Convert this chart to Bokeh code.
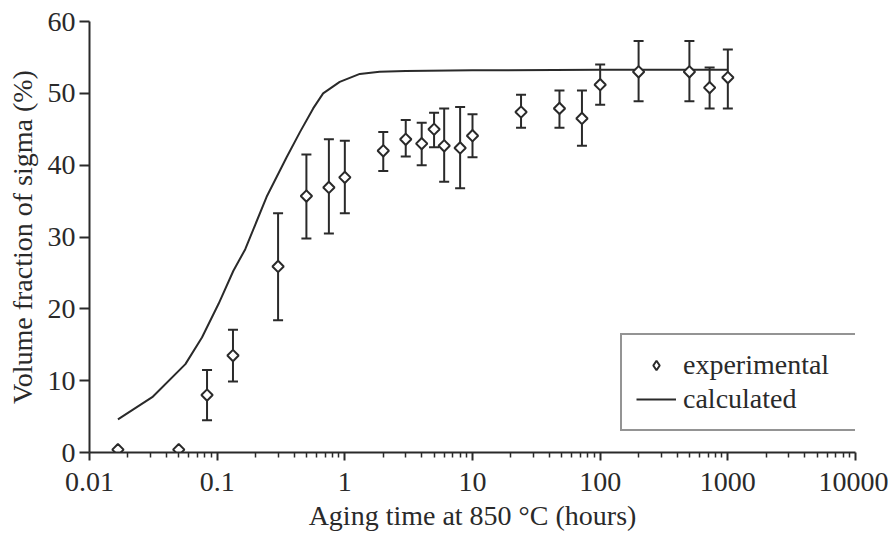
import math
from bokeh.plotting import figure
from bokeh.models import (Range1d, FixedTicker, CustomJSTickFormatter, Whisker, TeeHead,
                          ColumnDataSource, Legend, LegendItem)
from bokeh.embed import file_html
from bokeh.resources import INLINE

# ---- data ----
exp_time = [0.0167, 0.05, 0.0833, 0.133, 0.3, 0.5, 0.75, 1, 2, 3, 4, 5, 6, 8, 10,
            24, 48, 72, 100, 200, 500, 720, 1000]
exp_vf = [0.4, 0.4, 8.0, 13.5, 25.9, 35.7, 36.9, 38.3, 42.0, 43.6, 43.0, 45.0, 42.7, 42.4, 44.1,
          47.4, 47.9, 46.5, 51.2, 53.0, 53.0, 50.8, 52.2]
err_time = [0.0833, 0.133, 0.3, 0.5, 0.75, 1, 2, 3, 4, 5, 6, 8, 10,
            24, 48, 72, 100, 200, 500, 720, 1000]
err_upper = [11.5, 17.1, 33.3, 41.5, 43.6, 43.4, 44.6, 46.3, 45.9, 47.3, 47.9, 48.1, 47.1,
             49.8, 50.4, 50.4, 54.0, 57.3, 57.3, 53.6, 56.1]
err_lower = [4.5, 9.9, 18.4, 29.8, 30.5, 33.3, 39.2, 41.2, 40.0, 42.5, 37.7, 36.8, 41.1,
             45.2, 45.2, 42.7, 48.4, 48.9, 48.9, 47.9, 47.9]

calc_time = [0.0167, 0.031, 0.0564, 0.076, 0.1026, 0.134, 0.166, 0.244, 0.35, 0.445, 0.565,
             0.676, 0.912, 1.31, 1.87, 3, 10, 100, 1000]
calc_vf = [4.6, 7.7, 12.3, 16.0, 20.7, 25.3, 28.3, 35.6, 41.1, 44.6, 47.9,
           50.0, 51.6, 52.7, 53.0, 53.1, 53.2, 53.3, 53.3]

x_ticks = [0.01, 0.1, 1, 10, 100, 1000, 10000]
y_ticks = [0, 10, 20, 30, 40, 50, 60]

x_label = "Aging time at 850 °C (hours)"
y_label = "Volume fraction of sigma (%)"

FONT = "Liberation Serif"
INK = "#2a2a2a"

p = figure(width=888, height=535, x_axis_type="log",
           x_range=Range1d(0.01, 10000), y_range=Range1d(0, 60),
           output_backend="svg", toolbar_location=None,
           min_border_left=89, min_border_top=21, min_border_right=33, min_border_bottom=83)
p.outline_line_color = None
p.xgrid.visible = False
p.ygrid.visible = False

line_r = p.line(calc_time, calc_vf, line_color=INK, line_width=2)

err_src = ColumnDataSource(dict(t=err_time, up=err_upper, lo=err_lower))
wh = Whisker(base="t", upper="up", lower="lo", dimension="height", source=err_src,
             line_color=INK, line_width=2,
             upper_head=TeeHead(size=10, line_color=INK, line_width=2),
             lower_head=TeeHead(size=10, line_color=INK, line_width=2))
p.add_layout(wh)

# diamond-shaped copy of the experimental points (hidden under the markers, drives the legend glyph)
leg_r = p.scatter(exp_time, exp_vf, marker="diamond", size=10,
                  fill_color="white", line_color=INK, line_width=2)
sc_r = p.scatter(exp_time, exp_vf, marker="square", size=8, angle=math.pi / 4,
                 fill_color="white", line_color=INK, line_width=2)

minor = [m * 10.0 ** e for e in range(-2, 4) for m in range(2, 10)]
p.xaxis.ticker = FixedTicker(ticks=x_ticks, minor_ticks=minor)
p.xaxis.formatter = CustomJSTickFormatter(code="return tick.toString();")
p.yaxis.ticker = FixedTicker(ticks=y_ticks, minor_ticks=[])

p.axis.axis_line_color = INK
p.axis.axis_line_width = 2
p.axis.major_tick_line_color = INK
p.axis.major_tick_line_width = 2
p.axis.major_tick_in = 0
p.axis.major_tick_out = 8
p.axis.minor_tick_line_color = INK
p.axis.minor_tick_line_width = 1.5
p.axis.minor_tick_in = 0
p.axis.minor_tick_out = 5
p.axis.major_label_text_font = FONT
p.axis.major_label_text_font_size = "28px"
p.axis.major_label_text_color = INK
p.axis.axis_label_text_font = FONT
p.axis.axis_label_text_font_size = "28px"
p.axis.axis_label_text_font_style = "normal"
p.axis.axis_label_text_color = INK

p.yaxis.minor_tick_line_color = None
p.yaxis.major_tick_out = 10
p.xaxis.axis_label = x_label
p.yaxis.axis_label = y_label
p.xaxis.major_label_standoff = 12
p.yaxis.major_label_standoff = 4
p.xaxis.axis_label_standoff = 6
p.yaxis.axis_label_standoff = 7

legend = Legend(items=[LegendItem(label="experimental", renderers=[leg_r]),
                       LegendItem(label="calculated", renderers=[line_r])],
                location=(531, 21), margin=0, padding=14, spacing=2,
                glyph_width=40, glyph_height=24, label_standoff=7, label_width=160,
                label_text_font=FONT, label_text_font_size="28px", label_text_color=INK,
                border_line_color=INK, border_line_width=2,
                background_fill_color="white", background_fill_alpha=1)
p.add_layout(legend)

open("out.html", "w").write(file_html(p, INLINE))
